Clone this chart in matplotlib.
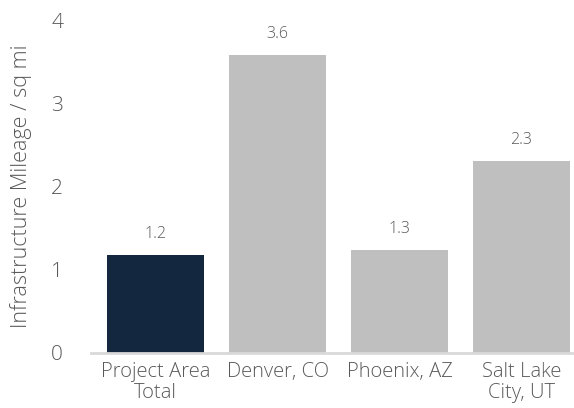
import matplotlib

matplotlib.use("Agg")
import matplotlib.pyplot as plt
import numpy as np

categories = ["Project Area\nTotal", "Denver, CO", "Phoenix, AZ", "Salt Lake\nCity, UT"]
mileage = [1.18, 3.58, 1.24, 2.31]
value_labels = ["1.2", "3.6", "1.3", "2.3"]
bar_colors = ["#13283f", "#bfbfbf", "#bfbfbf", "#bfbfbf"]
yticks = [0, 1, 2, 3, 4]

TEXT = "#595959"

plt.rcParams.update({"font.family": ["Open Sans", "DejaVu Sans"], "font.weight": "light",
                     "axes.labelweight": "light"})

fig = plt.figure(figsize=(5.74, 4.08), dpi=100)
ax = fig.add_axes([91 / 574, (408 - 353) / 408, 1 - 91 / 574, 333 / 408])

x = np.arange(len(categories))
ax.bar(x, mileage, width=0.8, color=bar_colors)
for xi, v, lab in zip(x, mileage, value_labels):
    ax.text(xi, v + 0.15, lab, ha="center", va="bottom", fontsize=11.5, color=TEXT)

ax.set_xlim(-0.53, 3.43)
ax.set_ylim(0, 4)
ax.set_yticks(yticks)
ax.set_xticks(x, categories)
ax.tick_params(axis="y", length=0, pad=20, labelsize=15, labelcolor=TEXT)
ax.tick_params(axis="x", length=0, pad=6.5, labelsize=14.5, labelcolor=TEXT)
for lab in ax.get_xticklabels():
    lab.set_linespacing(1.05)
for side in ["top", "right", "left"]:
    ax.spines[side].set_visible(False)
ax.spines["bottom"].set_color("#d9d9d9")
ax.spines["bottom"].set_linewidth(2)
ax.set_ylabel("Infrastructure Mileage / sq mi", fontsize=15.5, color=TEXT, labelpad=14)

fig.savefig("out.png", dpi=100, facecolor="white")
